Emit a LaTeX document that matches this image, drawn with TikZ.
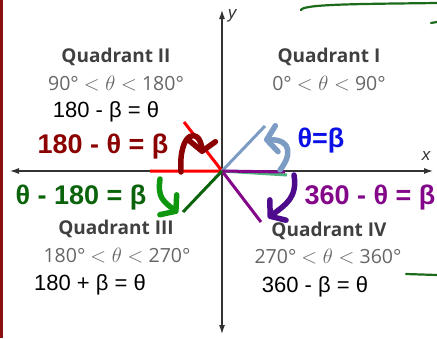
\documentclass[tikz,border=0pt]{standalone}
\usepackage{fontspec}
\setmainfont{Liberation Sans}
\newfontfamily\quadfont{Open Sans}
\usepackage{xcolor}
\usetikzlibrary{arrows.meta,bending}
\definecolor{axisgray}{HTML}{333333}
\definecolor{edgered}{HTML}{8B1010}
\definecolor{betared}{HTML}{8B0000}
\definecolor{betablue}{HTML}{0A10E6}
\definecolor{betagreen}{HTML}{0B640B}
\definecolor{betapurple}{HTML}{84078A}
\definecolor{rayblue}{HTML}{7D9CC4}
\definecolor{arrowgreen}{HTML}{0E970E}
\definecolor{arrowindigo}{HTML}{4D0A8C}
\definecolor{rayteal}{HTML}{4CB47C}
\definecolor{inkgreen}{HTML}{1B6B1B}
\tikzset{
  >={Latex[length=9pt,width=6pt]},
  axis/.style={draw=axisgray, line width=1.1pt},
  ray/.style={line width=3pt},
  swing/.style={line width=5.5pt, line cap=round, -{Straight Barb[length=10pt,width=26pt,round]}},
  quadname/.style={text=black!75, font=\quadfont\bfseries\fontsize{19}{21}\selectfont, inner sep=0pt},
  quadrange/.style={text=black!60, font=\quadfont\fontsize{19.5}{21}\selectfont, inner sep=0pt},
  eqn/.style={font=\fontsize{22}{24}\selectfont, inner sep=0pt},
  betarule/.style={font=\bfseries\fontsize{27}{29}\selectfont, inner sep=0pt},
  ink/.style={draw=inkgreen, line width=2.2pt, line cap=round},
}
\begin{document}
\begin{tikzpicture}[x=1pt, y=-1pt]
  \useasboundingbox (0,0) rectangle (437,338);
  \fill[white] (0,0) rectangle (437,338);
  \fill[edgered] (0,0) rectangle (3,338);

  % axes
  \coordinate (O) at (222,171);
  \coordinate (xl) at (10,171);
  \coordinate (xr) at (433,171);
  \coordinate (yt) at (222,10);
  \coordinate (yb) at (222,334);
  \draw[axis, <->] (xl) -- (xr);
  \draw[axis, <->] (yb) -- (yt);
  \node[font=\itshape\fontsize{17}{19}\selectfont, text=axisgray] (ylab) at (232,16) {y};
  \node[font=\itshape\fontsize{17}{19}\selectfont, text=axisgray] (xlab) at (426,156) {x};

  % rays
  \coordinate (r2) at (184,122);
  \coordinate (r2x) at (150,171);
  \coordinate (r1) at (265,126);
  \coordinate (r1x) at (287,175);
  \coordinate (r4x) at (285,172);
  \coordinate (r4) at (261,222);
  \coordinate (r3) at (183,212);
  \draw[ray, red] (r2x) -- (O) -- (r2);
  \draw[ray, rayblue] (O) -- (r1);
  \draw[ray, rayteal] (O) -- (r1x);
  \draw[ray, betapurple] (O) -- (r4x);
  \draw[ray, betapurple] (O) -- (r4);
  \draw[ray, betagreen] (O) -- (r3);

  % hand drawn arrows
  \coordinate (a2s) at (181,172);
  \coordinate (a2e) at (202,154);
  \coordinate (a1s) at (280,170);
  \coordinate (a1e) at (264,140);
  \coordinate (a3s) at (160,179);
  \coordinate (a3e) at (178,213);
  \coordinate (a4s) at (294,175);
  \coordinate (a4e) at (268,218);
  \draw[swing, betared] (a2s) .. controls (178,128) and (203,126) .. (a2e);
  \draw[swing, rayblue] (a1s) .. controls (292,155) and (293,137) .. (a1e);
  \draw[swing, arrowgreen] (a3s) .. controls (157,200) and (165,202) .. (a3e);
  \draw[swing, arrowindigo] (a4s) .. controls (298,200) and (283,206) .. (a4e);

  % quadrant labels
  \node[quadname] (q2) at (116,57) {Quadrant II};
  \node[quadrange] (q2r) at (116,84) {90\textdegree{} $<\theta<$ 180\textdegree};
  \node[eqn] (q2e) at (106,112) {180 - β = θ};
  \node[betarule, text=betared] (q2b) at (103,147) {180 - θ = β};

  \node[quadname] (q1) at (329,57) {Quadrant I};
  \node[quadrange] (q1r) at (329,84) {0\textdegree{} $<\theta<$ 90\textdegree};
  \node[betarule, text=betablue] (q1b) at (321,141) {θ=β};

  \node[betarule, text=betagreen] (q3b) at (81,198) {θ - 180 = β};
  \node[quadname] (q3) at (116,229) {Quadrant III};
  \node[quadrange] (q3r) at (117,256) {180\textdegree{} $<\theta<$ 270\textdegree};
  \node[eqn] (q3e) at (90,285) {180 + β = θ};

  \node[betarule, text=betapurple] (q4b) at (370,198) {360 - θ = β};
  \node[quadname] (q4) at (329,231) {Quadrant IV};
  \node[quadrange] (q4r) at (328,257) {270\textdegree{} $<\theta<$ 360\textdegree};
  \node[eqn] (q4e) at (315,287) {360 - β = θ};

  % ink marks
  \coordinate (k1) at (301,10);
  \coordinate (k2) at (437,3);
  \coordinate (k3) at (431,23);
  \coordinate (k4) at (437,22);
  \coordinate (k5) at (406,274);
  \coordinate (k6) at (437,275);
  \draw[ink] (k1) .. controls (303,4) and (360,4) .. (k2);
  \draw[ink] (k3) -- (k4);
  \draw[ink] (k5) -- (k6);
\end{tikzpicture}
\end{document}
